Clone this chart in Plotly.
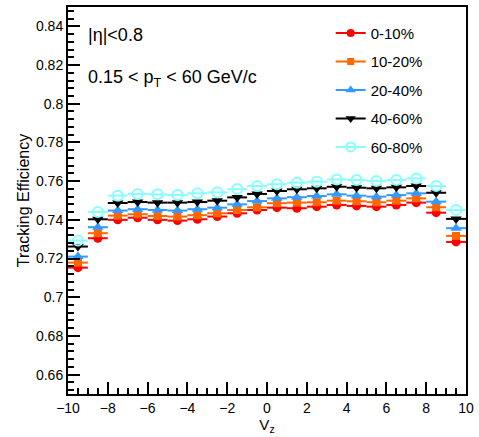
import plotly.graph_objects as go

vz_centers = [-9.5, -8.5, -7.5, -6.5, -5.5, -4.5, -3.5, -2.5, -1.5, -0.5,
              0.5, 1.5, 2.5, 3.5, 4.5, 5.5, 6.5, 7.5, 8.5, 9.5]
bin_half_width = [0.5] * 20

eff_0_10 = [0.7153, 0.7305, 0.7400, 0.7411, 0.7400, 0.7396, 0.7403, 0.7417, 0.7434, 0.7451,
            0.7463, 0.7460, 0.7468, 0.7477, 0.7472, 0.7468, 0.7477, 0.7489, 0.7437, 0.7286]
eff_10_20 = [0.7179, 0.7331, 0.7422, 0.7429, 0.7420, 0.7417, 0.7424, 0.7434, 0.7451, 0.7465,
             0.7486, 0.7489, 0.7491, 0.7499, 0.7496, 0.7491, 0.7499, 0.7511, 0.7465, 0.7317]
eff_20_40 = [0.7210, 0.7362, 0.7448, 0.7455, 0.7451, 0.7448, 0.7455, 0.7463, 0.7480, 0.7497,
             0.7511, 0.7517, 0.7523, 0.7532, 0.7525, 0.7520, 0.7528, 0.7537, 0.7494, 0.7357]
eff_40_60 = [0.7262, 0.7403, 0.7487, 0.7492, 0.7489, 0.7489, 0.7492, 0.7499, 0.7516, 0.7534,
             0.7549, 0.7558, 0.7563, 0.7571, 0.7566, 0.7563, 0.7568, 0.7575, 0.7540, 0.7405]
eff_60_80 = [0.7293, 0.7441, 0.7525, 0.7534, 0.7532, 0.7528, 0.7537, 0.7542, 0.7559, 0.7575,
             0.7584, 0.7592, 0.7597, 0.7609, 0.7606, 0.7601, 0.7606, 0.7614, 0.7575, 0.7451]

series_names = ["0-10%", "10-20%", "20-40%", "40-60%", "60-80%"]
series_values = [eff_0_10, eff_10_20, eff_20_40, eff_40_60, eff_60_80]

styles = [
    dict(color="#ff0000", symbol="circle", size=9, fill="#ff0000"),
    dict(color="#ff6600", symbol="square", size=8, fill="#ff6600"),
    dict(color="#3399ff", symbol="triangle-up", size=10, fill="#3399ff"),
    dict(color="#000000", symbol="triangle-down", size=10, fill="#000000"),
    dict(color="#88ffff", symbol="circle-open", size=10, fill="#88ffff"),
]

FONT = "Liberation Sans, Arial, Helvetica, sans-serif"

fig = go.Figure()
for name, vals, st in zip(series_names, series_values, styles):
    fig.add_trace(go.Scatter(
        x=vz_centers, y=vals, mode="markers", name=name, showlegend=False,
        marker=dict(symbol=st["symbol"], size=st["size"], color=st["fill"],
                    line=dict(color=st["color"], width=2 if "open" in st["symbol"] else 0)),
        error_x=dict(type="data", array=bin_half_width, symmetric=True,
                     color=st["color"], thickness=2, width=0),
    ))

# legend proxies
for i, (name, st) in enumerate(zip(series_names, styles)):
    fig.add_trace(go.Scatter(
        x=[None], y=[None], mode="lines+markers", name=name, legendgroup=f"g{i}",
        line=dict(color=st["color"], width=2),
        marker=dict(symbol=st["symbol"], size=st["size"] - 1, color=st["fill"],
                    line=dict(color=st["color"], width=2 if "open" in st["symbol"] else 0)),
    ))

fig.update_layout(
    width=479, height=437,
    margin=dict(l=68, r=11, t=5, b=43),
    paper_bgcolor="white", plot_bgcolor="white",
    font=dict(family=FONT, color="black", size=14),
    legend=dict(x=0.66, y=0.975, xanchor="left", yanchor="top",
                font=dict(size=15, family=FONT), bgcolor="rgba(0,0,0,0)",
                tracegroupgap=6, itemwidth=30),
    xaxis=dict(range=[-10, 10], tick0=-10, dtick=2, ticks="inside", ticklen=12, tickwidth=2,
               tickcolor="black", showline=True, linewidth=2, linecolor="black", mirror=True,
               showgrid=False, zeroline=False, tickfont=dict(size=14),
               minor=dict(dtick=0.5, ticks="inside", ticklen=6, tickwidth=2, tickcolor="black",
                          showgrid=False),
               title=dict(text="V<sub>z</sub>", font=dict(size=15), standoff=4)),
    yaxis=dict(range=[0.65, 0.85], tick0=0.66, dtick=0.02, ticks="inside", ticklen=12, tickwidth=2,
               tickcolor="black", showline=True, linewidth=2, linecolor="black", mirror=True,
               showgrid=False, zeroline=False, tickfont=dict(size=14),
               minor=dict(dtick=0.004, ticks="inside", ticklen=6, tickwidth=2, tickcolor="black",
                          showgrid=False),
               title=dict(text="Tracking Efficiency", font=dict(size=16), standoff=2)),
    annotations=[
        dict(text="|η|&lt;0.8", xref="paper", yref="paper", x=0.045, y=0.928,
             xanchor="left", yanchor="middle", showarrow=False, font=dict(size=18)),
        dict(text="0.15 &lt; p<sub>T</sub> &lt; 60 GeV/c", xref="paper", yref="paper",
             x=0.045, y=0.815, xanchor="left", yanchor="middle", showarrow=False,
             font=dict(size=18)),
    ],
)

fig.write_html("out.html", config={"displayModeBar": False},
               post_script="document.body.style.margin='0';")
